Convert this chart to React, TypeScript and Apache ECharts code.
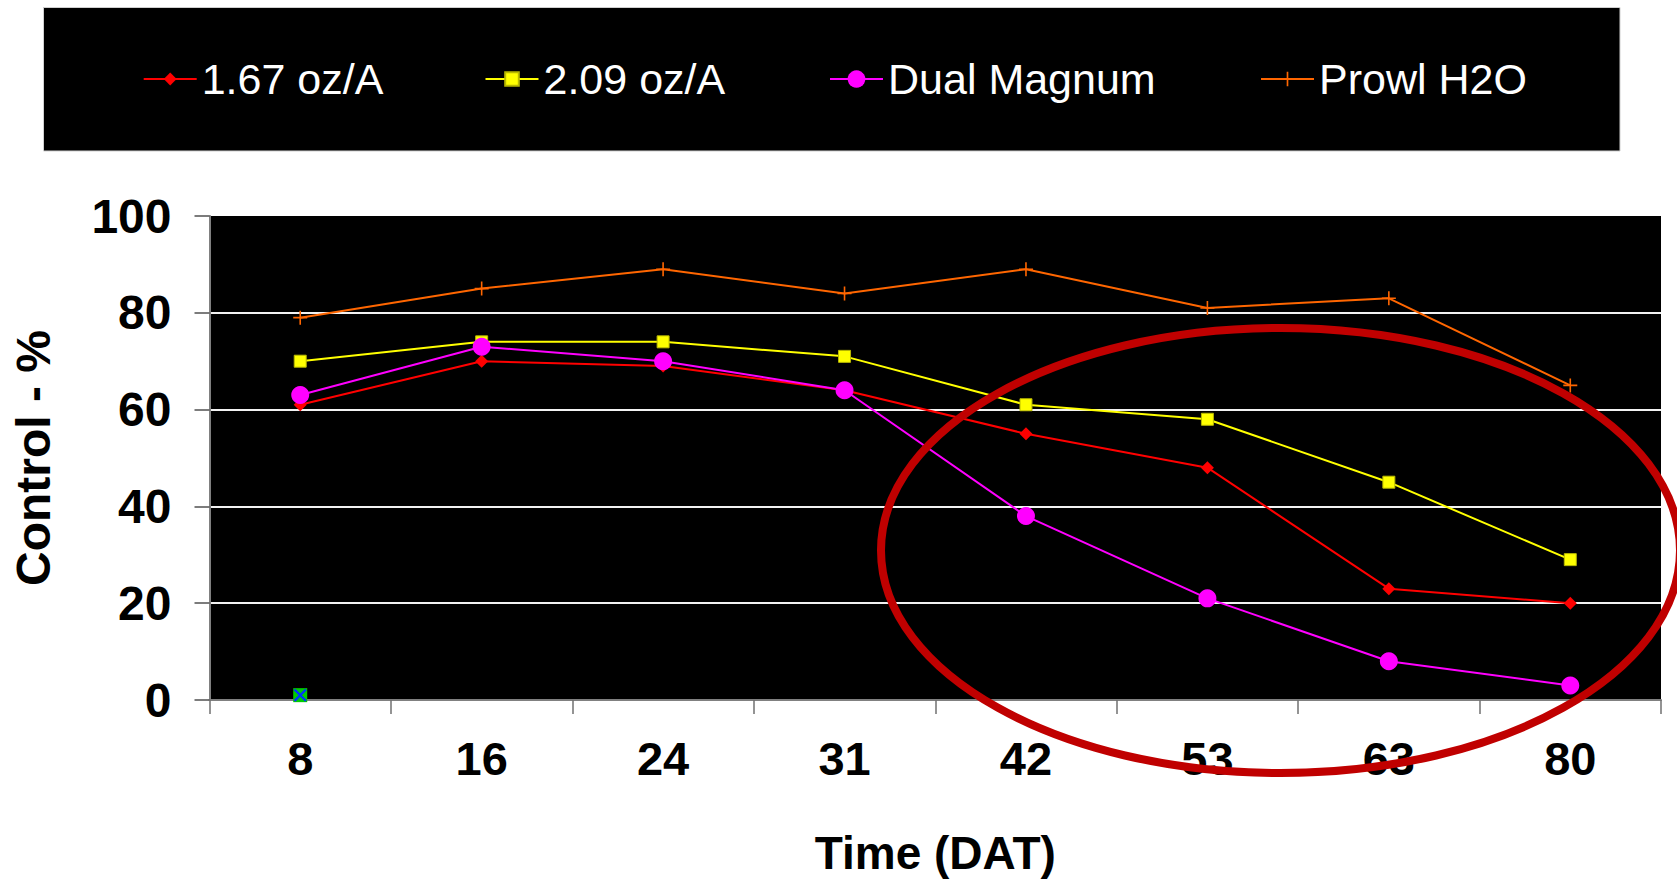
import React, { useEffect, useRef } from 'react';
import * as echarts from 'echarts';

const categories = ['8', '16', '24', '31', '42', '53', '63', '80'];
const rate167 = [61, 70, 69, 64, 55, 48, 23, 20];
const rate209 = [70, 74, 74, 71, 61, 58, 45, 29];
const dualMagnum = [63, 73, 70, 64, 38, 21, 8, 3];
const prowlH2O = [79, 85, 89, 84, 89, 81, 83, 65];
const strayPoint = [1, null, null, null, null, null, null, null];

const seriesNames = ['1.67 oz/A', '2.09 oz/A', 'Dual Magnum', 'Prowl H2O'];
const yMin = 0;
const yMax = 100;
const yInterval = 20;

const FONT = '"Liberation Sans", Arial, Helvetica, sans-serif';
const PLUS = 'path://M6.2,0H7.8V6.2H14V7.8H7.8V14H6.2V7.8H0V6.2H6.2Z';
const XMARK = 'path://M0,1.5L1.5,0L6,4.5L10.5,0L12,1.5L7.5,6L12,10.5L10.5,12L6,7.5L1.5,12L0,10.5L4.5,6Z';
const STAR = 'path://M5,0H7V12H5Z';

export default function App() {
  const ref = useRef<HTMLDivElement>(null);
  useEffect(() => {
    if (!ref.current) return;
    const chart = echarts.init(ref.current, null, { renderer: 'svg' });
    const legendBase = {
      top: 57.5,
      padding: 0,
      itemWidth: 53,
      selectedMode: false,
      textStyle: { color: '#ffffff', fontSize: 43, fontFamily: FONT },
    };
    chart.setOption({
      animation: false,
      backgroundColor: '#ffffff',
      textStyle: { fontFamily: FONT },
      graphic: [
        {
          type: 'rect',
          z: -10,
          shape: { x: 43.5, y: 7.5, width: 1576.5, height: 143.5 },
          style: { fill: '#000000', stroke: '#cfcfcf', lineWidth: 1 },
        },
        {
          type: 'ellipse',
          z: 100,
          silent: true,
          shape: { cx: 1280.5, cy: 550.5, rx: 399.5, ry: 222.5 },
          style: { fill: 'none', stroke: '#c00000', lineWidth: 8 },
        },
      ],
      legend: [
        { ...legendBase, left: 142.7, itemHeight: 16, data: [seriesNames[0]] },
        { ...legendBase, left: 484.5, itemHeight: 17, data: [seriesNames[1]] },
        { ...legendBase, left: 829, itemHeight: 22, data: [seriesNames[2]] },
        { ...legendBase, left: 1260, itemHeight: 18, data: [seriesNames[3]] },
      ],
      grid: {
        left: 209.5,
        right: 16,
        top: 216,
        bottom: 179,
        show: true,
        backgroundColor: '#000000',
        borderWidth: 0,
        containLabel: false,
      },
      xAxis: {
        type: 'category',
        data: categories,
        boundaryGap: true,
        name: 'Time (DAT)',
        nameLocation: 'middle',
        nameGap: 130,
        nameTextStyle: { fontSize: 46, fontWeight: 'bold', color: '#000', fontFamily: FONT },
        axisLine: { show: true, lineStyle: { color: '#808080', width: 2 } },
        axisTick: { show: true, length: 14, alignWithLabel: false, lineStyle: { color: '#707070', width: 1.5 } },
        axisLabel: { fontSize: 47, fontWeight: 'bold', color: '#000', margin: 35, fontFamily: FONT },
        splitLine: { show: false },
      },
      yAxis: {
        type: 'value',
        min: yMin,
        max: yMax,
        interval: yInterval,
        name: 'Control - %',
        nameLocation: 'middle',
        nameRotate: 90,
        nameGap: 152,
        nameTextStyle: { fontSize: 48, fontWeight: 'bold', color: '#000', fontFamily: FONT },
        axisLine: { show: true, lineStyle: { color: '#808080', width: 2 } },
        axisTick: { show: true, length: 15, lineStyle: { color: '#505050', width: 1.5 } },
        axisLabel: { fontSize: 48, fontWeight: 'bold', color: '#000', margin: 38, fontFamily: FONT },
        splitLine: {
          show: true,
          showMinLine: false,
          showMaxLine: false,
          lineStyle: { color: '#f2f2f2', width: 2 },
        },
      },
      series: [
        {
          name: seriesNames[0],
          type: 'line',
          data: rate167,
          symbol: 'diamond',
          symbolSize: 13,
          lineStyle: { color: '#ff0000', width: 2 },
          itemStyle: { color: '#ff0000' },
          z: 5,
        },
        {
          name: seriesNames[1],
          type: 'line',
          data: rate209,
          symbol: 'rect',
          symbolSize: 12,
          lineStyle: { color: '#ffff00', width: 2 },
          itemStyle: { color: '#ffff00', borderColor: '#b8b800', borderWidth: 1 },
          z: 4,
        },
        {
          name: seriesNames[2],
          type: 'line',
          data: dualMagnum,
          symbol: 'circle',
          symbolSize: 18,
          lineStyle: { color: '#ff00ff', width: 2 },
          itemStyle: { color: '#ff00ff' },
          z: 6,
        },
        {
          name: seriesNames[3],
          type: 'line',
          data: prowlH2O,
          symbol: PLUS,
          symbolSize: 14,
          lineStyle: { color: '#ff6600', width: 2 },
          itemStyle: { color: '#ff6600' },
          z: 3,
        },
        {
          name: 'stray-green',
          type: 'line',
          data: strayPoint,
          symbol: STAR,
          symbolSize: 14,
          itemStyle: { color: '#00cc00' },
          lineStyle: { width: 0 },
          z: 7,
        },
        {
          name: 'stray-blue',
          type: 'line',
          data: strayPoint,
          symbol: XMARK,
          symbolSize: 13,
          itemStyle: { color: '#0033ff' },
          lineStyle: { width: 0 },
          z: 8,
        },
      ],
    });
    return () => chart.dispose();
  }, []);
  return (
    <div
      ref={ref}
      style={{ position: 'fixed', left: 0, top: 0, width: 1677, height: 881 }}
    />
  );
}
